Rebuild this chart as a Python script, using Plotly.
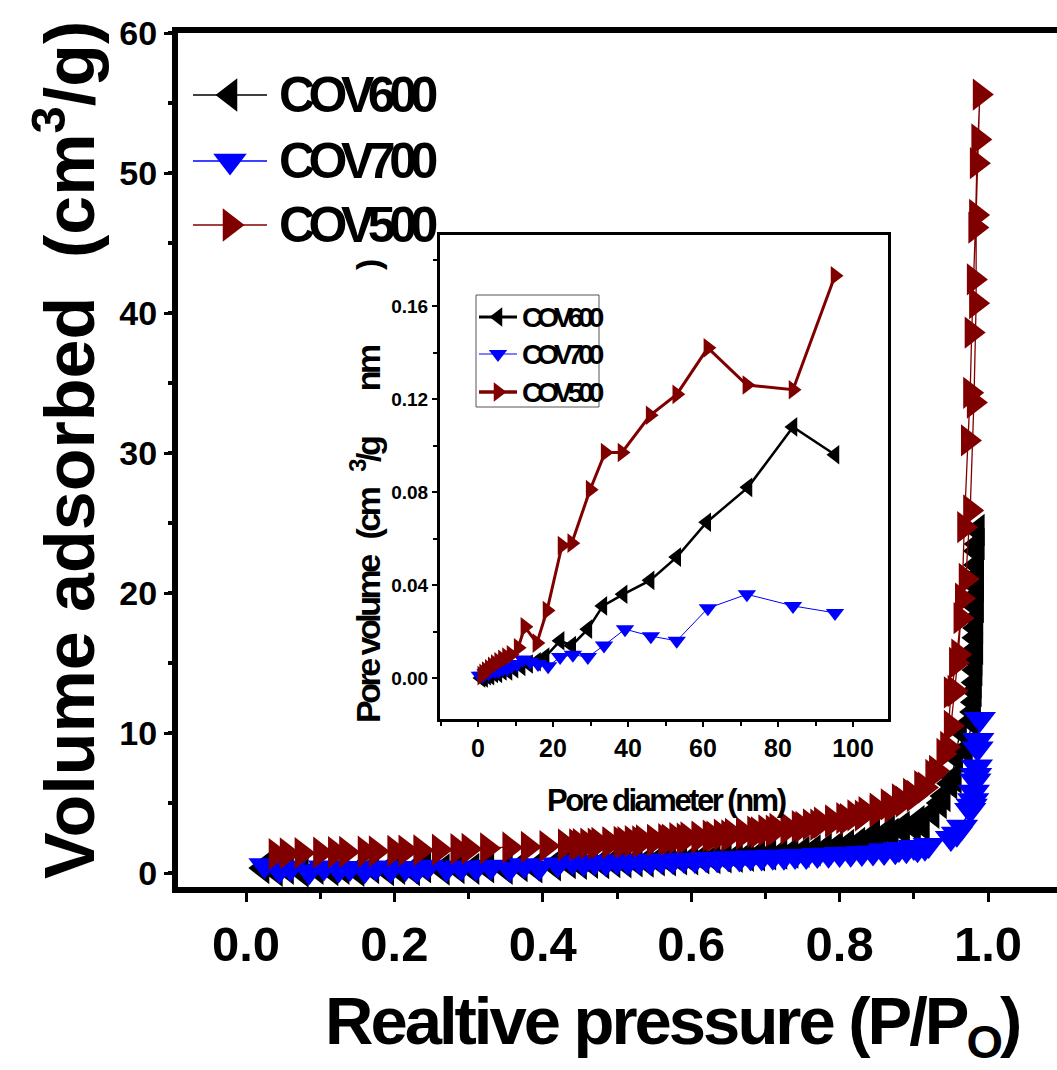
import plotly.graph_objects as go

# ---------------- main isotherm data (P/P0, volume cm3/g) ----------------
cov600_x = [0.022, 0.040, 0.055, 0.075, 0.095, 0.115, 0.130, 0.150, 0.170, 0.190, 0.205, 0.225, 0.240, 0.265,
            0.285, 0.305, 0.325, 0.350, 0.370, 0.390, 0.415, 0.435, 0.450, 0.465, 0.480, 0.495, 0.510, 0.525,
            0.540, 0.555, 0.570, 0.585, 0.600, 0.615, 0.630, 0.645, 0.660, 0.675, 0.690, 0.705, 0.720, 0.735,
            0.750, 0.765, 0.780, 0.795, 0.810, 0.825, 0.840, 0.855, 0.870, 0.885, 0.900, 0.912, 0.935, 0.949,
            0.957, 0.962, 0.980, 0.982, 0.983, 0.984, 0.984, 0.985, 0.985, 0.985, 0.986, 0.986,
            0.985, 0.985, 0.984, 0.984, 0.983, 0.983, 0.982, 0.981, 0.979, 0.970, 0.955, 0.940, 0.925, 0.905,
            0.885, 0.865, 0.845]
cov600_y = [0.35, 0.15, 0.30, 0.10, 0.30, 0.20, 0.30, 0.15, 0.35, 0.20, 0.30, 0.20, 0.40, 0.25,
            0.35, 0.30, 0.40, 0.30, 0.50, 0.40, 0.55, 0.70, 0.65, 0.72, 0.70, 0.78, 0.76, 0.84,
            0.82, 0.90, 0.90, 0.97, 0.98, 1.05, 1.06, 1.12, 1.15, 1.22, 1.26, 1.33, 1.38, 1.46,
            1.52, 1.62, 1.72, 1.85, 2.00, 2.15, 2.35, 2.55, 2.80, 3.05, 3.30, 3.40, 5.0, 6.4,
            8.3, 10.2, 11.5, 13.0, 14.5, 16.0, 17.5, 19.0, 20.5, 22.0, 23.5, 24.5,
            23.0, 21.2, 19.8, 18.2, 16.8, 15.2, 13.6, 12.2, 10.8, 8.8, 6.8, 5.5, 4.3, 3.7,
            3.3, 3.0, 2.7]

cov700_x = [0.025, 0.045, 0.060, 0.085, 0.105, 0.125, 0.140, 0.160, 0.175, 0.195, 0.215, 0.230, 0.245, 0.270,
            0.290, 0.310, 0.330, 0.355, 0.375, 0.395, 0.420, 0.440, 0.455, 0.470, 0.485, 0.500, 0.515, 0.530,
            0.545, 0.560, 0.575, 0.590, 0.605, 0.620, 0.635, 0.650, 0.665, 0.680, 0.695, 0.710, 0.725, 0.740,
            0.755, 0.770, 0.785, 0.800, 0.815, 0.830, 0.845, 0.860, 0.875, 0.890, 0.905, 0.915,
            0.958, 0.976, 0.980, 0.983, 0.985, 0.986, 0.989,
            0.987, 0.984, 0.981, 0.978, 0.965, 0.950, 0.920, 0.900, 0.880, 0.860]
cov700_y = [0.55, 0.20, 0.35, 0.10, 0.40, 0.25, 0.35, 0.20, 0.40, 0.25, 0.35, 0.20, 0.45, 0.30,
            0.40, 0.35, 0.45, 0.30, 0.55, 0.40, 0.60, 0.80, 0.70, 0.78, 0.72, 0.82, 0.78, 0.86,
            0.82, 0.90, 0.88, 0.95, 0.93, 1.00, 0.98, 1.05, 1.04, 1.10, 1.10, 1.16, 1.16, 1.22,
            1.22, 1.28, 1.30, 1.35, 1.38, 1.42, 1.46, 1.50, 1.55, 1.62, 1.70, 1.80,
            2.8, 4.5, 5.2, 6.6, 7.6, 8.9, 11.0,
            9.5, 7.0, 5.8, 4.8, 3.3, 2.5, 2.0, 1.85, 1.72, 1.62]

cov500_x = [0.040, 0.055, 0.075, 0.100, 0.120, 0.135, 0.160, 0.175, 0.200, 0.215, 0.235, 0.260, 0.285, 0.300,
            0.325, 0.355, 0.380, 0.405, 0.430, 0.445, 0.460, 0.475, 0.490, 0.505, 0.520, 0.535, 0.550, 0.565,
            0.580, 0.595, 0.610, 0.625, 0.640, 0.655, 0.670, 0.685, 0.700, 0.715, 0.730, 0.745, 0.760, 0.775,
            0.790, 0.805, 0.820, 0.835, 0.850, 0.865, 0.880, 0.895, 0.910, 0.925, 0.940, 0.950, 0.955, 0.960,
            0.965, 0.968, 0.973, 0.976, 0.978, 0.981, 0.983, 0.985, 0.989,
            0.987, 0.984, 0.984, 0.981, 0.976, 0.970, 0.963, 0.957, 0.950, 0.945, 0.930, 0.915, 0.900, 0.885,
            0.870, 0.850, 0.830, 0.810, 0.790, 0.770, 0.750, 0.730, 0.710, 0.690, 0.670, 0.650, 0.630, 0.610,
            0.590, 0.570, 0.550, 0.530, 0.510, 0.490, 0.470, 0.450, 0.430]
cov500_y = [1.35, 1.40, 1.42, 1.45, 1.48, 1.50, 1.52, 1.55, 1.58, 1.60, 1.62, 1.66, 1.70, 1.72,
            1.76, 1.82, 1.86, 1.92, 2.00, 2.05, 2.10, 2.14, 2.18, 2.22, 2.27, 2.32, 2.37, 2.42,
            2.48, 2.54, 2.60, 2.66, 2.73, 2.80, 2.88, 2.96, 3.05, 3.14, 3.24, 3.35, 3.47, 3.60,
            3.75, 3.92, 4.12, 4.35, 4.60, 4.90, 5.25, 5.65, 6.20, 7.00, 8.50, 10.5, 13.0, 15.6,
            19.6, 24.7, 30.9, 34.3, 38.6, 42.4, 46.1, 50.7, 55.6,
            52.4, 47.0, 40.7, 33.6, 25.9, 21.0, 18.2, 15.0, 12.9, 9.0, 7.3, 6.1, 5.5, 5.1,
            4.7, 4.4, 4.1, 3.85, 3.65, 3.45, 3.30, 3.15, 3.02, 2.90, 2.78, 2.68, 2.60, 2.52,
            2.45, 2.38, 2.32, 2.26, 2.20, 2.15, 2.10, 2.06, 2.02]

# ---------------- inset pore size distribution (nm, cm3/g nm) ----------------
psd600_d = [0.8, 1.5, 2.3, 3.2, 4.2, 5.3, 6.5, 8.0, 9.6, 11.5, 13.5, 15.6, 17.9, 21.9, 25.0, 29.3,
            33.3, 38.7, 45.9, 53.0, 61.0, 72.0, 84.0, 95.2]
psd600_v = [0.000, 0.000, 0.001, 0.001, 0.002, 0.002, 0.003, 0.003, 0.004, 0.005, 0.006, 0.007,
            0.009, 0.016, 0.014, 0.021, 0.031, 0.036, 0.042, 0.052, 0.067, 0.082, 0.108, 0.096]
psd700_d = [0.5, 1.2, 2.0, 2.8, 3.6, 4.5, 5.5, 6.6, 7.8, 9.0, 10.5, 12.0, 13.9, 16.0, 18.7, 21.9,
            25.3, 29.3, 33.6, 39.2, 46.1, 53.0, 61.3, 71.7, 84.0, 95.2]
psd700_v = [0.001, 0.001, 0.002, 0.002, 0.003, 0.003, 0.003, 0.004, 0.004, 0.005, 0.006, 0.008,
            0.007, 0.006, 0.005, 0.009, 0.010, 0.009, 0.014, 0.021, 0.018, 0.016, 0.030, 0.036,
            0.031, 0.028]
psd500_d = [1.0, 1.5, 2.2, 3.0, 3.8, 4.6, 5.5, 6.5, 7.6, 8.8, 10.7, 12.5, 15.7, 18.4, 22.4, 25.0,
            29.9, 33.9, 38.4, 45.9, 53.0, 61.3, 71.7, 84.0, 95.2]
psd500_v = [0.001, 0.002, 0.003, 0.004, 0.005, 0.006, 0.007, 0.008, 0.009, 0.010, 0.013, 0.022,
            0.015, 0.029, 0.057, 0.058, 0.081, 0.097, 0.097, 0.113, 0.122, 0.142, 0.126, 0.124, 0.173]

series_names = ["COV600", "COV700", "COV500"]
series_colors = ["#000000", "#0000FF", "#800000"]
series_symbols = ["triangle-left", "triangle-down", "triangle-right"]

main_xticks = [0.0, 0.2, 0.4, 0.6, 0.8, 1.0]
main_xticktext = ["0.0", "0.2", "0.4", "0.6", "0.8", "1.0"]
main_yticks = [0, 10, 20, 30, 40, 50, 60]
inset_xticks = [0, 20, 40, 60, 80, 100]
inset_yticks = [0.00, 0.04, 0.08, 0.12, 0.16]

# ---------------- layout geometry (pixels) ----------------
W, H = 1057, 1070
L, RR, T, B = 178, 1057, 33, 887
FONT = "Liberation Sans, Arial, sans-serif"


def fx(p):
    return (p - L) / (RR - L)


def fy(p):
    return (B - p) / (B - T)


fig = go.Figure()

main_sets = [(cov600_x, cov600_y), (cov700_x, cov700_y), (cov500_x, cov500_y)]
for (xs, ys), name, col, sym in zip(main_sets, series_names, series_colors, series_symbols):
    fig.add_trace(go.Scatter(
        x=xs, y=ys, mode="lines+markers", name=name, showlegend=False,
        line=dict(color=col, width=1.3),
        marker=dict(symbol=sym, size=28, color=col, line=dict(width=0)),
        xaxis="x", yaxis="y", cliponaxis=False))

inset_sets = [(psd600_d, psd600_v), (psd700_d, psd700_v), (psd500_d, psd500_v)]
inset_lw = [2.5, 1.0, 3.0]
inset_ms = [17, 16, 17]
for (xs, ys), name, col, sym, lw, ms in zip(inset_sets, series_names, series_colors, series_symbols,
                                            inset_lw, inset_ms):
    fig.add_trace(go.Scatter(
        x=xs, y=ys, mode="lines+markers", name=name, showlegend=False,
        line=dict(color=col, width=lw),
        marker=dict(symbol=sym, size=ms, color=col, line=dict(width=0)),
        xaxis="x2", yaxis="y2"))

# ---------------- legends (drawn on a pixel overlay axis) ----------------
main_leg_y = [95, 161, 225]
inset_leg_y = [317, 354, 392]
inset_leg_lw = [3.0, 1.0, 3.5]
annotations = []
for i, (name, col, sym) in enumerate(zip(series_names, series_colors, series_symbols)):
    # main legend sample
    fig.add_trace(go.Scatter(
        x=[193, 267], y=[main_leg_y[i]] * 2, mode="lines", showlegend=False,
        line=dict(color=col, width=1.5), xaxis="x3", yaxis="y3", hoverinfo="skip"))
    fig.add_trace(go.Scatter(
        x=[230], y=[main_leg_y[i]], mode="markers", showlegend=False,
        marker=dict(symbol=sym, size=29, color=col, opacity=1, line=dict(width=0)),
        xaxis="x3", yaxis="y3", hoverinfo="skip"))
    annotations.append(dict(
        x=277, y=main_leg_y[i], xref="x3", yref="y3", xanchor="left", yanchor="middle",
        showarrow=False,
        text=f'<span style="letter-spacing:-6.5px">{name}</span>',
        font=dict(family=FONT, size=50, color="black", weight="bold")))
    # inset legend sample
    fig.add_trace(go.Scatter(
        x=[479, 517], y=[inset_leg_y[i]] * 2, mode="lines", showlegend=False,
        line=dict(color=col, width=inset_leg_lw[i]), xaxis="x3", yaxis="y3", hoverinfo="skip"))
    fig.add_trace(go.Scatter(
        x=[498], y=[inset_leg_y[i]], mode="markers", showlegend=False,
        marker=dict(symbol=sym, size=inset_ms[i], color=col, opacity=1, line=dict(width=0)),
        xaxis="x3", yaxis="y3", hoverinfo="skip"))
    annotations.append(dict(
        x=520, y=inset_leg_y[i], xref="x3", yref="y3", xanchor="left", yanchor="middle",
        showarrow=False,
        text=f'<span style="letter-spacing:-5px">{name}</span>',
        font=dict(family=FONT, size=28, color="black", weight="bold")))

shapes = [dict(type="rect", xref="x3", yref="y3", x0=476, x1=599, y0=295, y1=407,
               line=dict(color="#555555", width=1), fillcolor="rgba(0,0,0,0)", layer="below")]

# ---------------- titles ----------------
nb = "\u00a0"
annotations += [
    dict(x=fx(65), y=fy(450), xref="paper", yref="paper", textangle=-90, showarrow=False,
         xanchor="center", yanchor="middle",
         text=f"Volume adsorbed{nb}{nb}(cm<sup>3</sup>/g)",
         font=dict(family=FONT, size=70, color="black", weight="bold")),
    dict(x=fx(672), y=fy(1025), xref="paper", yref="paper", showarrow=False,
         xanchor="center", yanchor="middle",
         text='<span style="letter-spacing:-3px">Realtive pressure (P/P<sub>O</sub>)</span>',
         font=dict(family=FONT, size=67, color="black", weight="bold")),
    dict(x=fx(666), y=fy(800), xref="paper", yref="paper", showarrow=False,
         xanchor="center", yanchor="middle",
         text='<span style="letter-spacing:-2.5px">Pore diameter (nm)</span>',
         font=dict(family=FONT, size=31, color="black", weight="bold")),
    dict(x=fx(365), y=fy(492), xref="paper", yref="paper", textangle=-90, showarrow=False,
         xanchor="center", yanchor="middle",
         text=(f'<span style="letter-spacing:-3.5px">Pore volume{nb*3}(cm{nb*3}<sup>3</sup>/g'
               f'{nb*8}nm{nb*13})</span>'),
         font=dict(family=FONT, size=34, color="black", weight="bold")),
]

# inset geometry in pixels
IL, IR, IT, IB = 440, 888, 235, 719

fig.update_layout(
    width=W, height=H,
    margin=dict(l=L, r=W - RR, t=T, b=H - B, pad=0),
    paper_bgcolor="white", plot_bgcolor="rgba(0,0,0,0)",
    showlegend=False,
    xaxis=dict(range=[(L - 246) / 742, (RR - 246) / 742], tickvals=main_xticks,
               ticktext=main_xticktext,
               showline=True, linewidth=6, linecolor="black", mirror=True,
               ticks="outside", ticklen=9, tickwidth=3, tickcolor="black",
               minor=dict(dtick=0.1, ticks="outside", ticklen=6, tickwidth=3, tickcolor="black"),
               showgrid=False, zeroline=False,
               tickfont=dict(family=FONT, size=49, color="black", weight="bold")),
    yaxis=dict(range=[-1, 60], tickvals=main_yticks,
               showline=True, linewidth=6, linecolor="black", mirror=False,
               ticks="outside", ticklen=8, tickwidth=3, tickcolor="black",
               minor=dict(dtick=5, ticks="outside", ticklen=4, tickwidth=4, tickcolor="black"),
               showgrid=False, zeroline=False,
               tickfont=dict(family=FONT, size=34, color="black", weight="bold")),
    xaxis2=dict(domain=[fx(IL), fx(IR)], anchor="y2",
                range=[(IL - 478) / 3.75, (IR - 478) / 3.75], tickvals=inset_xticks,
                showline=True, linewidth=3, linecolor="black", mirror=True,
                ticks="outside", ticklen=5, tickwidth=2, tickcolor="black",
                minor=dict(dtick=10, ticks="outside", ticklen=4, tickwidth=2, tickcolor="black"),
                showgrid=False, zeroline=False,
                tickfont=dict(family=FONT, size=25, color="black", weight="bold")),
    yaxis2=dict(domain=[fy(IB), fy(IT)], anchor="x2",
                range=[(678 - IB) / 2325, (678 - IT) / 2325], tickvals=inset_yticks, tickformat=".2f",
                showline=True, linewidth=3, linecolor="black", mirror=True,
                ticks="outside", ticklen=5, tickwidth=2, tickcolor="black",
                minor=dict(dtick=0.02, ticks="outside", ticklen=4, tickwidth=2, tickcolor="black"),
                showgrid=False, zeroline=False,
                tickfont=dict(family=FONT, size=19, color="black", weight="bold")),
    xaxis3=dict(overlaying="x", anchor="y3", range=[L, RR], visible=False),
    yaxis3=dict(overlaying="y", anchor="x3", range=[B, T], visible=False),
    annotations=annotations,
    shapes=shapes,
)

fig.write_html("out.html")
